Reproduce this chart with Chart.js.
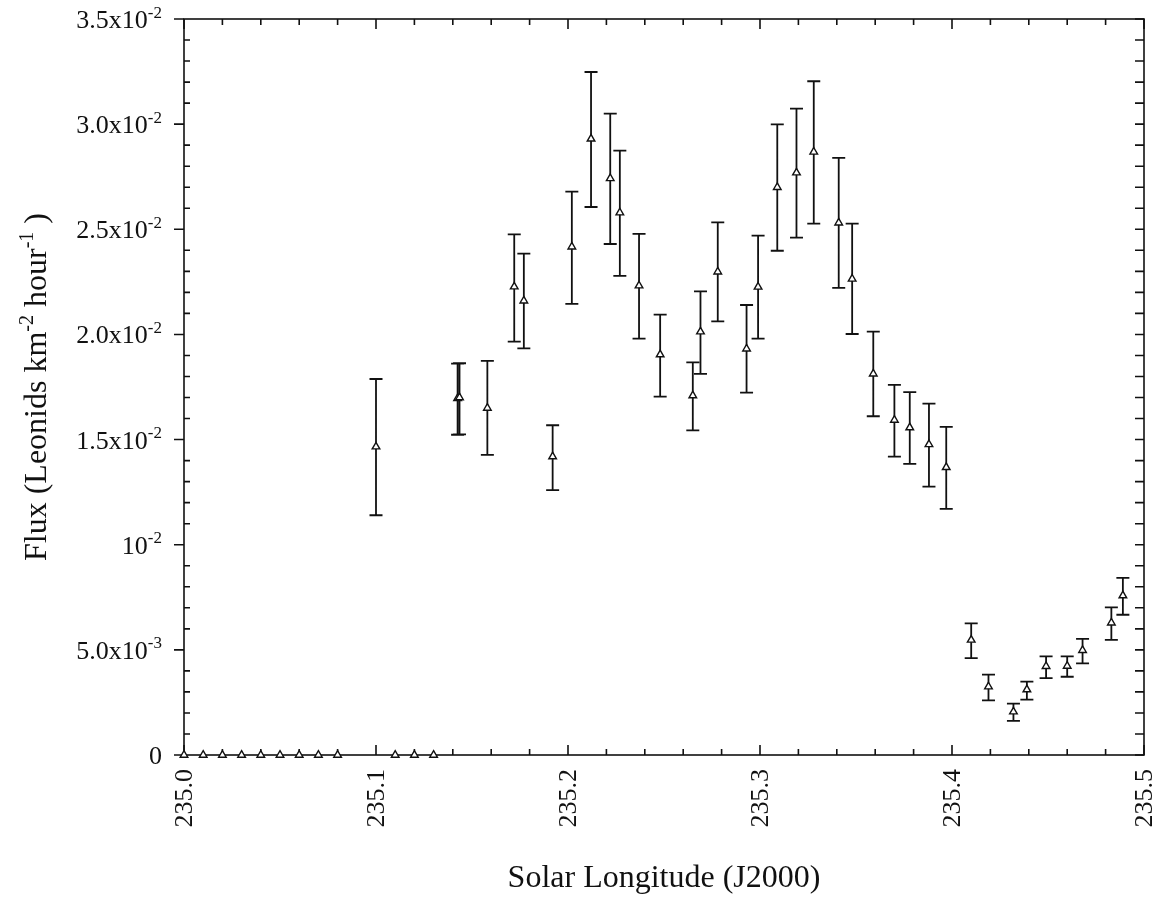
<!DOCTYPE html>
<html>
<head>
<meta charset="utf-8">
<script src="https://cdn.jsdelivr.net/npm/chart.js@4.4.1/dist/chart.umd.min.js"></script>
<style>
  html, body { margin: 0; padding: 0; background: #fff; }
  #wrap { width: 1172px; height: 898px; }
</style>
</head>
<body>
<div id="wrap"><canvas id="flux-chart" width="1172" height="898"></canvas></div>
<script>
// ------------------------------------------------------
// @Data
// ------------------------------------------------------

const solarLongitude = [
  235.000, 235.010, 235.020, 235.030, 235.040, 235.050, 235.060, 235.070, 235.080,
  235.100, 235.110, 235.120, 235.130,
  235.1425, 235.1435, 235.158, 235.172, 235.177, 235.192, 235.202, 235.212, 235.222,
  235.227, 235.237, 235.248, 235.265, 235.269, 235.278, 235.293, 235.299, 235.309,
  235.319, 235.328, 235.341, 235.348, 235.359, 235.370, 235.378, 235.388, 235.397,
  235.410, 235.419, 235.432, 235.439, 235.449, 235.460, 235.468, 235.483, 235.489,
];

const flux = [
  0, 0, 0, 0, 0, 0, 0, 0, 0,
  0.01466, 0, 0, 0,
  0.01696, 0.01700, 0.01650, 0.02227, 0.02160, 0.01419, 0.02417, 0.02930, 0.02742,
  0.02579, 0.02232, 0.01904, 0.01709, 0.02013, 0.02298, 0.01932, 0.02226, 0.02700,
  0.02769, 0.02868, 0.02531, 0.02264, 0.01813, 0.01593, 0.01557, 0.01477, 0.01368,
  0.00547, 0.00325, 0.00206, 0.00311, 0.00422, 0.00423, 0.00498, 0.00629, 0.00758,
];

const fluxLow = [
  null, null, null, null, null, null, null, null, null,
  0.01140, null, null, null,
  0.01523, 0.01525, 0.01427, 0.01966, 0.01934, 0.01260, 0.02145, 0.02606, 0.02430,
  0.02278, 0.01980, 0.01704, 0.01544, 0.01812, 0.02062, 0.01723, 0.01980, 0.02398,
  0.02460, 0.02527, 0.02221, 0.02002, 0.01611, 0.01419, 0.01384, 0.01276, 0.01170,
  0.00461, 0.00260, 0.00162, 0.00263, 0.00366, 0.00372, 0.00436, 0.00547, 0.00667,
];

const fluxHigh = [
  null, null, null, null, null, null, null, null, null,
  0.01788, null, null, null,
  0.01861, 0.01863, 0.01874, 0.02476, 0.02384, 0.01568, 0.02679, 0.03248, 0.03050,
  0.02874, 0.02478, 0.02094, 0.01867, 0.02205, 0.02533, 0.02140, 0.02470, 0.02999,
  0.03074, 0.03204, 0.02840, 0.02527, 0.02013, 0.01760, 0.01726, 0.01671, 0.01560,
  0.00626, 0.00382, 0.00244, 0.00349, 0.00469, 0.00469, 0.00552, 0.00702, 0.00842,
];

const xTickValues = [235.0, 235.1, 235.2, 235.3, 235.4, 235.5];
const xTickLabels = ['235.0', '235.1', '235.2', '235.3', '235.4', '235.5'];
const yTickValues = [0, 0.005, 0.010, 0.015, 0.020, 0.025, 0.030, 0.035];
const yTickLabels = [
  ['0', ''], ['5.0x10', '-3'], ['10', '-2'], ['1.5x10', '-2'],
  ['2.0x10', '-2'], ['2.5x10', '-2'], ['3.0x10', '-2'], ['3.5x10', '-2'],
];

const xTitle = 'Solar Longitude (J2000)';
const yTitle = [['Flux (Leonids km', false], ['-2', true], [' hour', false], ['-1', true], [' )', false]];

const SERIF = '"Liberation Serif", "Times New Roman", serif';
const INK = '#111';

// ------------------------------------------------------
// @Helpers
// ------------------------------------------------------

function drawRuns(ctx, runs, x, y, size, supSize, align) {
  let total = 0;
  runs.forEach(([t, sup]) => {
    ctx.font = (sup ? supSize : size) + 'px ' + SERIF;
    total += ctx.measureText(t).width;
  });
  let cx = align === 'right' ? x - total : align === 'center' ? x - total / 2 : x;
  ctx.textAlign = 'left';
  ctx.textBaseline = 'alphabetic';
  runs.forEach(([t, sup]) => {
    ctx.font = (sup ? supSize : size) + 'px ' + SERIF;
    ctx.fillText(t, cx, sup ? y - size * 0.4 : y);
    cx += ctx.measureText(t).width;
  });
}

// ------------------------------------------------------
// @Frame, ticks and labels (drawn under the points)
// ------------------------------------------------------

const frameAxes = {
  id: 'frameAxes',
  beforeDatasetsDraw(chart) {
    const { ctx, chartArea: a, scales: { x, y } } = chart;
    ctx.save();
    ctx.strokeStyle = INK;
    ctx.fillStyle = INK;
    ctx.lineWidth = 1.6;
    ctx.strokeRect(a.left, a.top, a.right - a.left, a.bottom - a.top);

    ctx.beginPath();
    // x minor every 0.02, major every 0.1 (bottom and top, inward)
    for (let k = 0; k <= 25; k++) {
      const px = x.getPixelForValue(235 + k * 0.02);
      const len = k % 5 === 0 ? 10 : 6;
      ctx.moveTo(px, a.bottom); ctx.lineTo(px, a.bottom - len);
      ctx.moveTo(px, a.top); ctx.lineTo(px, a.top + len);
    }
    // y minor every 0.001: left minor inward, left major outward; right all inward
    for (let k = 0; k <= 35; k++) {
      const py = y.getPixelForValue(k * 0.001);
      if (k % 5 === 0) {
        ctx.moveTo(a.left, py); ctx.lineTo(a.left - 10, py);
      } else {
        ctx.moveTo(a.left, py); ctx.lineTo(a.left + 6, py);
      }
      ctx.moveTo(a.right, py); ctx.lineTo(a.right - 9, py);
    }
    ctx.stroke();

    // y tick labels
    yTickValues.forEach((v, i) => {
      const py = y.getPixelForValue(v);
      const [base, sup] = yTickLabels[i];
      drawRuns(ctx, [[base, false], [sup, true]], a.left - 22, py + 9, 26, 17, 'right');
    });

    // x tick labels, rotated
    ctx.font = '26px ' + SERIF;
    xTickValues.forEach((v, i) => {
      const px = x.getPixelForValue(v);
      ctx.save();
      ctx.translate(px + 1, a.bottom + 14);
      ctx.rotate(-Math.PI / 2);
      ctx.textAlign = 'right';
      ctx.textBaseline = 'middle';
      ctx.fillText(xTickLabels[i], 0, 0);
      ctx.restore();
    });

    // axis titles
    ctx.font = '32px ' + SERIF;
    ctx.textAlign = 'center';
    ctx.textBaseline = 'alphabetic';
    ctx.fillText(xTitle, (a.left + a.right) / 2, 887);

    ctx.save();
    ctx.translate(46, (a.top + a.bottom) / 2);
    ctx.rotate(-Math.PI / 2);
    drawRuns(ctx, yTitle, 0, 0, 32, 20, 'center');
    ctx.restore();

    // error bars
    ctx.lineWidth = 1.8;
    ctx.beginPath();
    solarLongitude.forEach((sl, i) => {
      if (fluxLow[i] === null) return;
      const px = x.getPixelForValue(sl);
      const lo = y.getPixelForValue(fluxLow[i]);
      const hi = y.getPixelForValue(fluxHigh[i]);
      ctx.moveTo(px, lo); ctx.lineTo(px, hi);
      ctx.moveTo(px - 6.5, lo); ctx.lineTo(px + 6.5, lo);
      ctx.moveTo(px - 6.5, hi); ctx.lineTo(px + 6.5, hi);
    });
    ctx.stroke();

    ctx.restore();
  },
};

// ------------------------------------------------------
// @Scatter chart
// ------------------------------------------------------

const fluxChartBox = document.getElementById('flux-chart');

if (fluxChartBox) {
  const fluxCtx = fluxChartBox.getContext('2d');

  new Chart(fluxCtx, {
    type: 'scatter',
    data: {
      datasets: [{
        label                : 'Leonids flux',
        data                 : solarLongitude.map((sl, i) => ({ x: sl, y: flux[i] })),
        pointStyle           : 'triangle',
        pointRadius          : 4.4,
        pointBorderWidth     : 1.4,
        pointBackgroundColor : '#fff',
        pointBorderColor     : INK,
        showLine             : false,
        clip                 : false,
      }],
    },
    options: {
      responsive: false,
      animation: false,
      layout: {
        padding: { left: 184, right: 28, top: 19, bottom: 143 },
      },
      plugins: {
        legend: { display: false },
        tooltip: { enabled: false },
      },
      scales: {
        x: { type: 'linear', min: 235.0, max: 235.5, display: false },
        y: { type: 'linear', min: 0, max: 0.035, display: false },
      },
    },
    plugins: [frameAxes],
  });
}
</script>
</body>
</html>
